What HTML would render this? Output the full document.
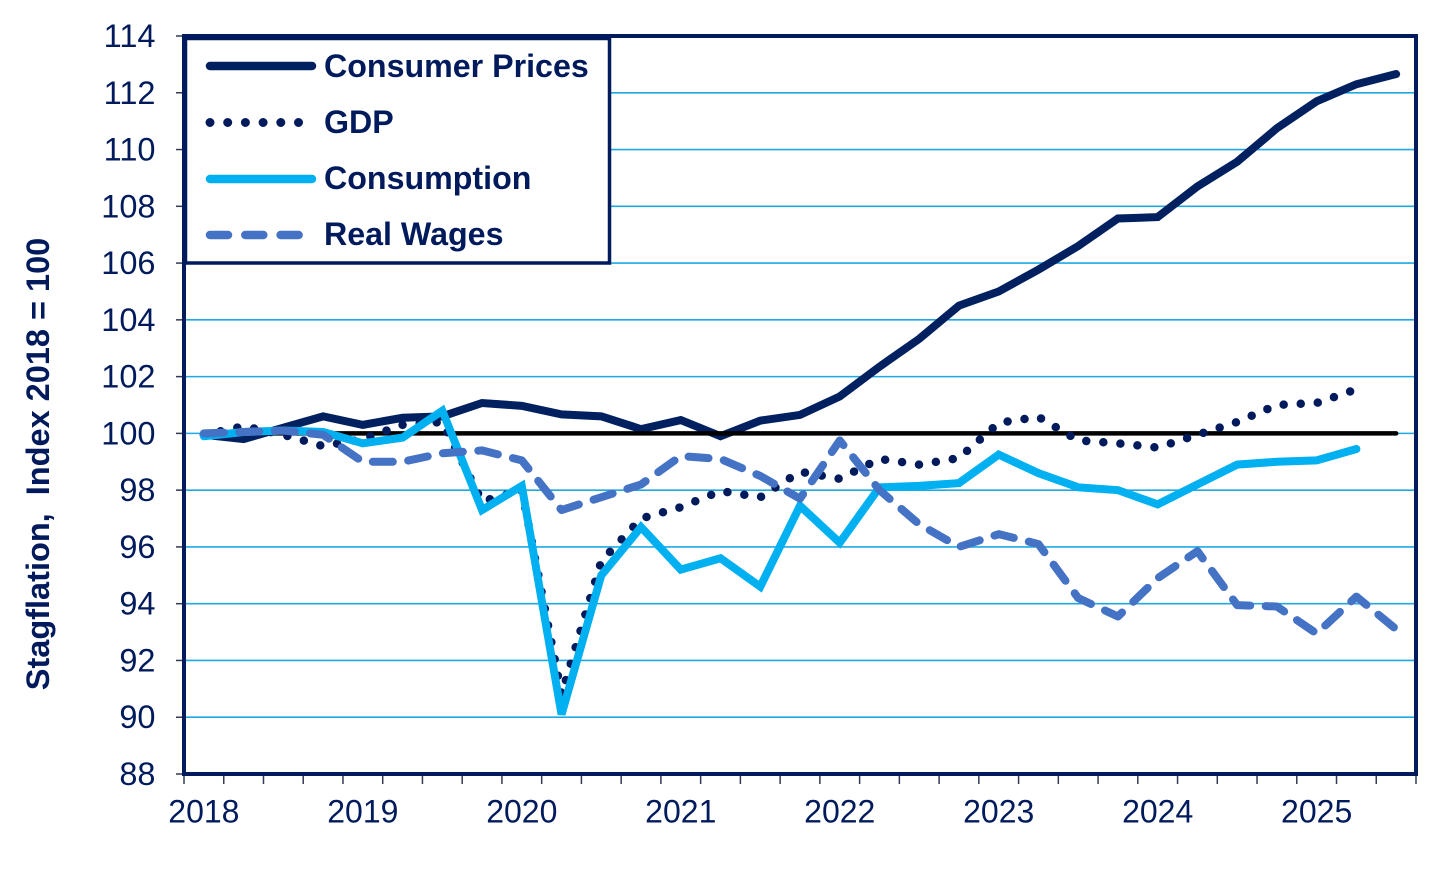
<!DOCTYPE html>
<html lang="en">
<head>
<meta charset="utf-8">
<title>Stagflation chart</title>
<style>
html,body{margin:0;padding:0;background:#fff;}
svg{display:block;font-family:"Liberation Sans",sans-serif;}
</style>
</head>
<body>
<svg id="chart" width="1456" height="874" viewBox="0 0 1456 874" xmlns="http://www.w3.org/2000/svg">
<rect x="0" y="0" width="1456" height="874" fill="#ffffff"/>
<g id="grid"></g>
<g id="ticks"></g>
<g id="ylabels"></g>
<g id="xlabels"></g>
<text transform="translate(49,464) rotate(-90)" text-anchor="middle" font-size="32.500" font-weight="700" fill="#001a5c" xml:space="preserve">Stagflation,  Index 2018 = 100</text>
<g id="series"></g>
<rect x="184" y="36" width="1232" height="738" fill="none" stroke="#001a5c" stroke-width="4"/>
<g>
<rect x="185.500" y="38.500" width="424" height="224.500" fill="#ffffff" stroke="#001a5c" stroke-width="3.500"/>
<g>
<line x1="210" y1="66" x2="312" y2="66" stroke="#00205f" stroke-width="8.500" stroke-linecap="round"/>
<text x="324" y="77" font-size="32.200" font-weight="700" fill="#001a5c">Consumer Prices</text>
</g>
<g>
<line x1="210" y1="122.500" x2="300" y2="122.500" stroke="#001a5c" stroke-width="9" stroke-linecap="round" stroke-dasharray="0 17.700"/>
<text x="324" y="133" font-size="32.200" font-weight="700" fill="#001a5c">GDP</text>
</g>
<g>
<line x1="210" y1="179" x2="312" y2="179" stroke="#00b0f0" stroke-width="8.500" stroke-linecap="round"/>
<text x="324" y="189" font-size="32.200" font-weight="700" fill="#001a5c">Consumption</text>
</g>
<g>
<line x1="210" y1="235" x2="300" y2="235" stroke="#4472c4" stroke-width="8.500" stroke-linecap="round" stroke-dasharray="18 17.300"/>
<text x="324" y="245" font-size="32.200" font-weight="700" fill="#001a5c">Real Wages</text>
</g>
</g>
</svg>
<script>
var yearLabels = ['2018','2019','2020','2021','2022','2023','2024','2025'];
var yTickValues = [88,90,92,94,96,98,100,102,104,106,108,110,112,114];
var baselineValue = 100;
var consumerPrices = [99.95,99.8,100.2,100.6,100.3,100.55,100.6,101.07,100.97,100.67,100.6,100.15,100.47,99.9,100.45,100.65,101.3,102.35,103.33,104.5,105.0,105.77,106.6,107.57,107.62,108.7,109.57,110.75,111.7,112.3,112.66];
var gdp = [99.95,100.25,99.95,99.55,99.8,100.3,100.4,97.6,98.0,90.8,95.5,97.0,97.4,97.97,97.75,98.65,98.4,99.1,98.9,99.13,100.37,100.58,99.75,99.65,99.5,99.95,100.4,101.0,101.07,101.55];
var consumption = [99.9,100.05,100.1,100.05,99.65,99.85,100.8,97.3,98.15,90.1,95.0,96.7,95.2,95.6,94.6,97.45,96.15,98.1,98.15,98.25,99.25,98.6,98.1,98.0,97.5,98.2,98.9,99.0,99.05,99.45];
var realWages = [100,100.05,100.1,99.95,99.0,99.0,99.3,99.4,99.05,97.3,97.75,98.2,99.2,99.1,98.5,97.7,99.75,98.0,96.8,96.0,96.45,96.1,94.2,93.55,94.9,95.85,93.95,93.9,92.95,94.25,93.1];

var NS = 'http://www.w3.org/2000/svg';
var plotLeft = 184, plotRight = 1416, plotTop = 36, plotBottom = 774;
var quarterCount = consumerPrices.length;
var quarterWidth = (plotRight - plotLeft) / quarterCount;
var yMin = yTickValues[0], yMax = yTickValues[yTickValues.length - 1];

function xAt(i) { return plotLeft + quarterWidth * (i + 0.5); }
function yAt(v) { return plotBottom - (v - yMin) / (yMax - yMin) * (plotBottom - plotTop); }
function make(tag, attrs, parent) {
  var el = document.createElementNS(NS, tag);
  for (var k in attrs) { el.setAttribute(k, attrs[k]); }
  parent.appendChild(el);
  return el;
}
function pathFrom(values) {
  return values.map(function (v, i) {
    return (i ? 'L' : 'M') + xAt(i).toFixed(2) + ' ' + yAt(v).toFixed(2);
  }).join(' ');
}

var gridG = document.getElementById('grid');
var ticksG = document.getElementById('ticks');
var yLabelsG = document.getElementById('ylabels');
var xLabelsG = document.getElementById('xlabels');
var seriesG = document.getElementById('series');

yTickValues.forEach(function (v) {
  var y = yAt(v);
  if (v !== yMin && v !== yMax) {
    var g = make('line', {x1: plotLeft, x2: plotRight, y1: y, y2: y, stroke: '#1ea9e3', 'stroke-width': 1.6}, gridG);
    
    
  }
  var t = make('line', {x1: plotLeft - 8, x2: plotLeft, y1: y, y2: y, stroke: '#333a55', 'stroke-width': 1.5}, ticksG);
  
  
  var lab = make('text', {x: 155.5, y: y + 11, 'text-anchor': 'end', 'font-size': 32.5, fill: '#001a5c'}, yLabelsG);
  lab.textContent = String(v);
  
  
});

for (var q = 0; q <= quarterCount; q++) {
  var tx = plotLeft + quarterWidth * q;
  var xt = make('line', {x1: tx, x2: tx, y1: plotBottom, y2: plotBottom + 10, stroke: '#333a55', 'stroke-width': 1.5}, ticksG);
  
  
}

yearLabels.forEach(function (yr, i) {
  var xl = make('text', {x: xAt(i * 4), y: 822.5, 'text-anchor': 'middle', 'font-size': 32, fill: '#001a5c'}, xLabelsG);
  xl.textContent = yr;
  
  
});

var consumerPath = make('path', {d: pathFrom(consumerPrices), fill: 'none', stroke: '#00205f', 'stroke-width': 8, 'stroke-linejoin': 'miter', 'stroke-linecap': 'round'}, seriesG);



var baselineY = yAt(baselineValue);
var baseline = make('line', {x1: xAt(0), x2: xAt(quarterCount - 1), y1: baselineY, y2: baselineY, stroke: '#000000', 'stroke-width': 4.5, 'stroke-linecap': 'round'}, seriesG);



var gdpPath = make('path', {d: pathFrom(gdp), fill: 'none', stroke: '#001a5c', 'stroke-width': 8.5, 'stroke-linejoin': 'round', 'stroke-linecap': 'round', 'stroke-dasharray': '0 17.1'}, seriesG);



var consumptionPath = make('path', {d: pathFrom(consumption), fill: 'none', stroke: '#00b0f0', 'stroke-width': 8, 'stroke-linejoin': 'miter', 'stroke-linecap': 'round'}, seriesG);



var wagesPath = make('path', {d: pathFrom(realWages), fill: 'none', stroke: '#4472c4', 'stroke-width': 8, 'stroke-linejoin': 'round', 'stroke-linecap': 'round', 'stroke-dasharray': '20 15.500'}, seriesG);


</script>
</body>
</html>
